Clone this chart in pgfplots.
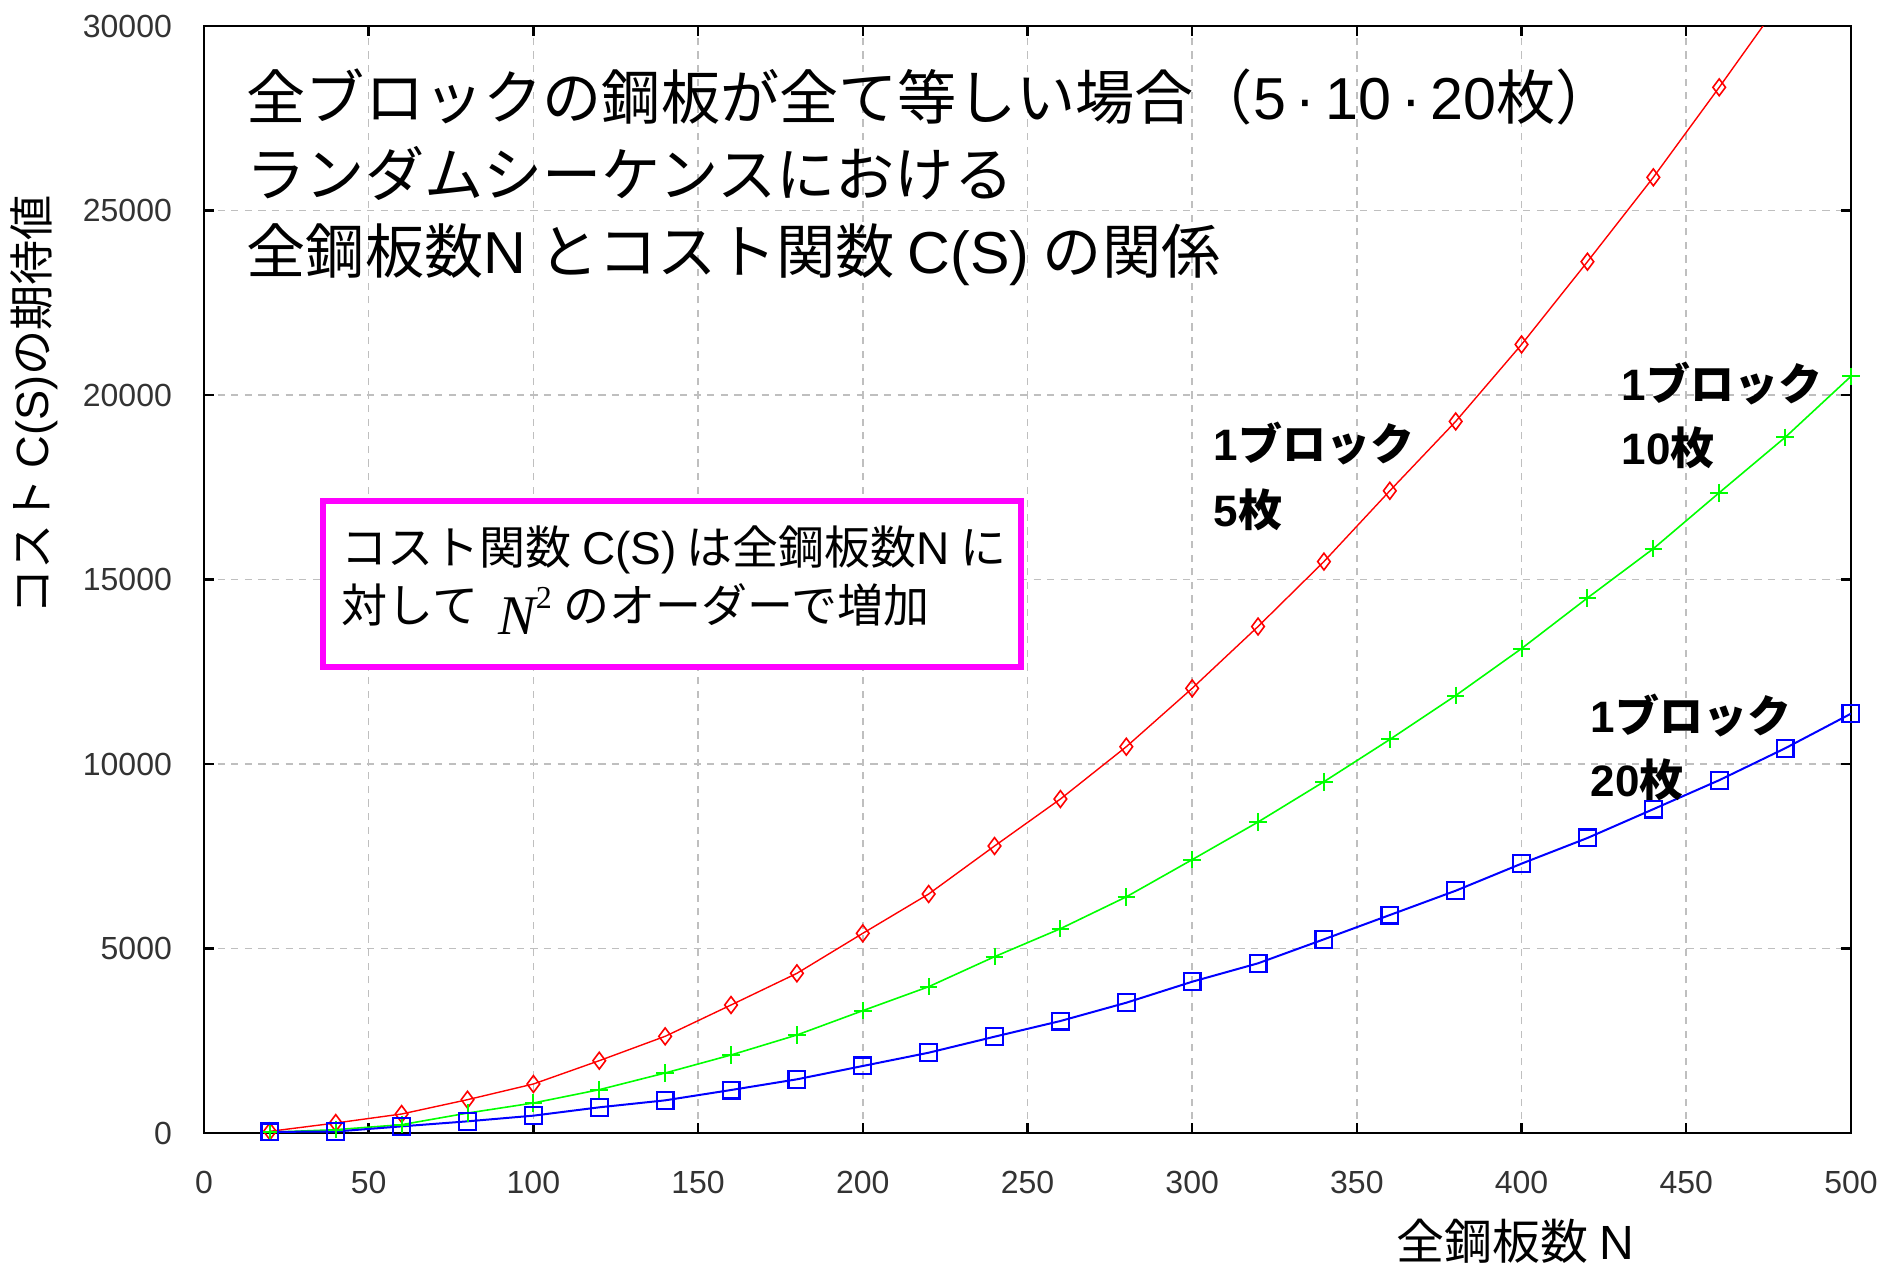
\documentclass[border=0pt]{standalone}
\usepackage{fontspec}
\usepackage{pgfplots}
\pgfplotsset{compat=1.18}
\setmainfont{Noto Sans CJK JP}
\newfontfamily\lat{Liberation Sans}
\newfontfamily\tms{Liberation Serif}

\definecolor{cred}{RGB}{255,0,0}
\definecolor{cgreen}{RGB}{0,255,0}
\definecolor{cblue}{RGB}{0,0,255}
\definecolor{cmag}{RGB}{255,0,255}

\begin{document}
\begin{tikzpicture}[
  ttl/.style={anchor=base west, inner sep=0pt, font=\fontsize{14.8}{17}\selectfont},
  boxtext/.style={anchor=base west, inner sep=0pt, font=\fontsize{11.5}{13}\selectfont},
  serlabel/.style={anchor=base west, inner sep=0pt, font=\fontsize{11}{13}\selectfont\bfseries},
]
\begin{axis}[
  at={(0,0)}, anchor=south west,
  scale only axis, width=411.75pt, height=276.75pt,
  xmin=0, xmax=500, ymin=0, ymax=30000,
  xtick={0,50,...,500}, ytick={0,5000,...,30000},
  scaled y ticks=false,
  grid=major,
  major grid style={black!25, dash pattern=on 1.8pt off 1.6pt, line width=0.4pt},
  axis line style={black, line width=0.6pt},
  tick align=inside, major tick length=2.6pt,
  every tick/.style={black, line width=0.6pt},
  /pgf/number format/assume math mode=true,
  /pgf/number format/1000 sep={},
  tick label style={font=\lat\fontsize{8}{8}\selectfont, text=black!80},
  xticklabel style={yshift=-6pt},
  yticklabel style={xshift=-4.5pt},
  xlabel={全鋼板数 {\lat N}},
  xlabel style={at={(rel axis cs:0.796,-0.098)}, anchor=center, font=\fontsize{12}{14}\selectfont},
  ylabel={コスト {\lat C(S)}の期待値},
  ylabel style={at={(rel axis cs:-0.1032,0.658)}, anchor=center, font=\fontsize{11.3}{13}\selectfont},
]
% 1 block = 5 plates
\addplot[cred, line width=0.35pt, mark=diamond, mark size=2.1pt, mark options={solid, line width=0.4pt}] coordinates {
(20,45) (40,271) (60,515) (80,903) (100,1328) (120,1960) (140,2620) (160,3469)
(180,4327) (200,5411) (220,6477) (240,7778) (260,9051) (280,10469) (300,12051)
(320,13726) (340,15486) (360,17404) (380,19284) (400,21370) (420,23613)
(440,25899) (460,28339) (480,30840) (500,33400)};
% 1 block = 10 plates
\addplot[cgreen, line width=0.4pt, mark=+, mark size=2.2pt, mark options={solid, line width=0.5pt}] coordinates {
(20,20) (40,90) (60,225) (80,540) (100,813) (120,1174) (140,1626) (160,2114)
(180,2656) (200,3315) (220,3965) (240,4778) (260,5537) (280,6400) (300,7408)
(320,8428) (340,9520) (360,10665) (380,11856) (400,13129) (420,14500)
(440,15835) (460,17352) (480,18851) (500,20507)};
% 1 block = 20 plates
\addplot[cblue, line width=0.5pt, mark=square, mark size=2.1pt, mark options={solid, line width=0.55pt}] coordinates {
(20,30) (40,40) (60,180) (80,316) (100,470) (120,696) (140,885) (160,1165)
(180,1455) (200,1816) (220,2176) (240,2610) (260,3035) (280,3531) (300,4100)
(320,4599) (340,5249) (360,5907) (380,6566) (400,7300) (420,7995)
(440,8776) (460,9561) (480,10425) (500,11364)};

% title block
\node[ttl] at (axis cs:12.7,27480) {全ブロックの鋼板が全て等しい場合（{\lat 5\,·\,10\,·\,20}枚）};
\node[ttl] at (axis cs:12.7,25393) {ランダムシーケンスにおける};
\node[ttl] at (axis cs:12.7,23306) {全鋼板数{\lat N} とコスト関数 {\lat C(S)} の関係};

% annotation box
\draw[cmag, line width=1.5pt, fill=white] (axis cs:36.1,17127) rectangle (axis cs:248.0,12629);
\node[boxtext] at (axis cs:41.6,15420) {コスト関数 {\lat C(S)} は全鋼板数{\lat N} に};
\node[boxtext] at (axis cs:41.6,13848) {対して\hspace{5pt}\raisebox{-3.2pt}{{\tms\itshape\fontsize{14}{15}\selectfont N}\raisebox{6.5pt}{\tms\fontsize{8}{8}\selectfont 2}}\hspace{3pt}のオーダーで増加};

% series labels
\node[serlabel] at (axis cs:306.3,18238) {{\lat 1}ブロック};
\node[serlabel] at (axis cs:306.3,16450) {{\lat 5}枚};
\node[serlabel] at (axis cs:430.2,19864) {{\lat 1}ブロック};
\node[serlabel] at (axis cs:430.2,18130) {{\lat 10}枚};
\node[serlabel] at (axis cs:420.8,10867) {{\lat 1}ブロック};
\node[serlabel] at (axis cs:420.8,9106) {{\lat 20}枚};
\end{axis}
\pgfresetboundingbox
\useasboundingbox (-51pt,-33.5pt) rectangle (418.75pt,283.25pt);
\end{tikzpicture}
\end{document}
